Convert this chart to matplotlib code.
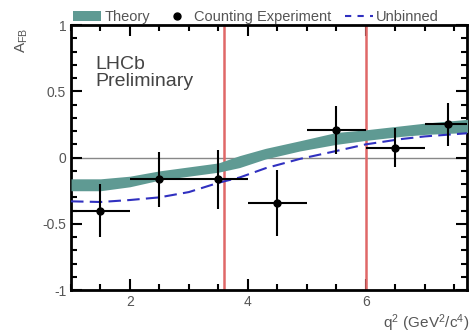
import matplotlib
matplotlib.use("Agg")
import matplotlib.pyplot as plt
from matplotlib.ticker import MultipleLocator
from matplotlib.lines import Line2D
import numpy as np

plt.rcParams['font.family'] = ['Liberation Sans', 'DejaVu Sans']

# counting experiment points
q2 = [1.5, 2.5, 3.5, 4.5, 5.5, 6.5, 7.4]
q2_lo = [0.5, 0.5, 0.5, 0.5, 0.5, 0.5, 0.4]
q2_hi = [0.5, 0.5, 0.5, 0.5, 0.5, 0.5, 0.4]
afb = [-0.40, -0.165, -0.165, -0.34, 0.21, 0.075, 0.25]
afb_err = [0.20, 0.21, 0.22, 0.25, 0.18, 0.145, 0.16]

# theory band
th_x = [1.0, 1.5, 2.0, 2.5, 3.0, 3.5, 3.86, 4.3, 4.88, 5.5, 6.0, 6.6, 7.0, 7.75]
th_lo = [-0.25, -0.25, -0.22, -0.17, -0.14, -0.11, -0.075, -0.01, 0.05, 0.10, 0.13, 0.16, 0.175, 0.19]
th_hi = [-0.16, -0.16, -0.14, -0.10, -0.07, -0.04, 0.015, 0.07, 0.127, 0.19, 0.21, 0.24, 0.26, 0.29]

# unbinned fit
ub_x = [1.0, 1.5, 2.0, 2.5, 3.0, 3.5, 3.86, 4.3, 4.88, 5.5, 6.0, 6.6, 7.0, 7.75]
ub_y = [-0.33, -0.335, -0.32, -0.30, -0.26, -0.19, -0.15, -0.08, -0.01, 0.05, 0.10, 0.14, 0.16, 0.185]

vlines = [3.6, 6.0]

fig = plt.figure(figsize=(4.75, 3.35), dpi=100)
ax = fig.add_axes([0.1495, 0.134, 0.834, 0.791])

ax.axhline(0, color='#888888', lw=1.0, zorder=1)
for v in vlines:
    ax.axvline(v, color='#e06868', lw=1.8, zorder=2)

band = ax.fill_between(th_x, th_lo, th_hi, color='#5f9a93', lw=0, zorder=3, label='Theory')
ax.plot(ub_x, ub_y, color='#3030c0', lw=1.5, dashes=(6, 3), zorder=4)
ax.errorbar(q2, afb, xerr=[q2_lo, q2_hi], yerr=afb_err, fmt='o', color='black',
            ms=5, lw=1.5, capsize=0, zorder=5)

pts_h = Line2D([], [], ls='none', marker='o', ms=5, color='black', label='Counting Experiment')
ub_h = Line2D([], [], color='#3030c0', lw=1.5, dashes=(3, 3), label='Unbinned')

ax.set_xlim(1, 7.72)
ax.set_ylim(-1, 1)
ax.xaxis.set_major_locator(MultipleLocator(2))
ax.xaxis.set_minor_locator(MultipleLocator(0.5))
ax.yaxis.set_major_locator(MultipleLocator(0.5))
ax.yaxis.set_minor_locator(MultipleLocator(0.1))
ax.tick_params(which='both', direction='in', top=True, right=True, width=1.5,
               labelsize=10, labelcolor='#555555')
ax.tick_params(which='major', length=8)
ax.tick_params(which='minor', length=4)
ax.set_yticks([-1, -0.5, 0, 0.5, 1])
ax.set_yticklabels(['-1', '-0.5', '0', '0.5', '1'])
for s in ax.spines.values():
    s.set_linewidth(2)

ax.text(0.062, 0.885, 'LHCb\nPreliminary', transform=ax.transAxes, fontsize=14,
        color='#444444', va='top', linespacing=1.05)

fig.text(0.045, 0.88, r'$\mathregular{A_{FB}}$', rotation=90, fontsize=11,
         color='#555555', ha='center', va='center')
fig.text(0.988, 0.035, r'$\mathregular{q^2\ (GeV^2/c^4)}$', fontsize=11,
         color='#555555', ha='right', va='center')

ax.legend(handles=[band, pts_h, ub_h], loc='lower left', bbox_to_anchor=(0.005, 1.005),
          ncol=3, frameon=False, fontsize=10.5, handlelength=1.9, handletextpad=0.25,
          columnspacing=0.9, borderpad=0, borderaxespad=0, labelcolor='#555555')

fig.savefig('out.png', dpi=100)
